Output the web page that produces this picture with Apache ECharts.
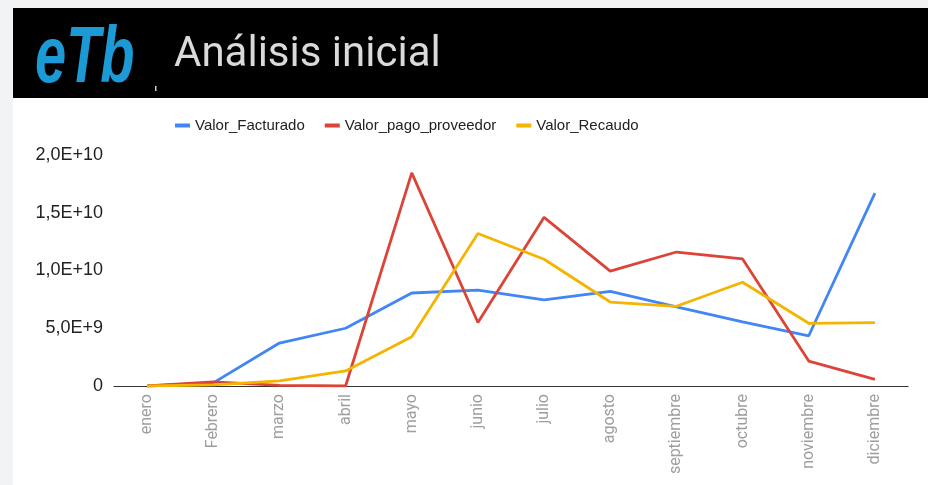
<!DOCTYPE html>
<html>
<head>
<meta charset="utf-8">
<script src="https://cdn.jsdelivr.net/npm/echarts@6/dist/echarts.min.js"></script>
<style>
  html, body { margin: 0; padding: 0; background: #f1f3f4; }
  #chart { width: 928px; height: 485px; }
</style>
</head>
<body>
<div id="chart"></div>
<script>
// monthly values
const meses = ['enero', 'Febrero', 'marzo', 'abril', 'mayo', 'junio', 'julio',
  'agosto', 'septiembre', 'octubre', 'noviembre', 'diciembre'];
const valorFacturado = [0, 0.27e9, 3.72e9, 5.0e9, 8.05e9, 8.3e9, 7.45e9, 8.2e9, 6.85e9, 5.55e9, 4.35e9, 16.7e9];
const valorPagoProveedor = [0, 0.35e9, 0.05e9, 0, 18.45e9, 5.5e9, 14.6e9, 9.95e9, 11.6e9, 11.0e9, 2.16e9, 0.58e9];
const valorRecaudo = [0, 0.1e9, 0.45e9, 1.3e9, 4.27e9, 13.2e9, 10.97e9, 7.27e9, 6.9e9, 8.98e9, 5.43e9, 5.48e9];
const seriesNames = ['Valor_Facturado', 'Valor_pago_proveedor', 'Valor_Recaudo'];
const colors = ['#4285f4', '#db4437', '#f4b400'];

const chart = echarts.init(document.getElementById('chart'));

// 2.0e+10 -> 2,0E+10
const fmtY = (v) => {
  if (v === 0) return '0';
  return v.toExponential(1).replace('.', ',').replace('e', 'E');
};

const mkLine = (name, data, color) => ({
  name: name,
  type: 'line',
  data: data,
  showSymbol: false,
  symbol: 'none',
  lineStyle: { width: 2.8, color: color },
  itemStyle: { color: color },
  z: 3
});

const option = {
  backgroundColor: '#f1f3f4',
  animation: false,
  textStyle: { fontFamily: 'Liberation Sans, Arial, sans-serif' },
  graphic: [
    // white panel
    { type: 'rect', left: 13, top: 98, shape: { width: 915, height: 387 }, style: { fill: '#ffffff' }, z: -10 },
    // black header
    { type: 'rect', left: 13, top: 8, shape: { width: 915, height: 90 }, style: { fill: '#000000' }, z: -9 },
    {
      type: 'text', x: 35, y: 20, scaleX: 0.7, z: 10,
      style: {
        text: 'eTb', fill: '#1b9ad6',
        font: 'italic bold 80px "Liberation Sans", Arial, sans-serif'
      }
    },
    { type: 'rect', shape: { x: 155, y: 86, width: 1.5, height: 5 }, style: { fill: '#cfcfcf' }, z: 10 },
    {
      type: 'text', x: 174, y: 34, z: 10,
      style: {
        text: 'Análisis inicial', fill: '#dadada',
        font: '42px Roboto, "Noto Sans", sans-serif'
      }
    }
  ],
  legend: {
    top: 113,
    left: 170,
    itemWidth: 15,
    itemHeight: 4,
    itemGap: 20,
    icon: 'rect',
    textStyle: { fontSize: 15, color: '#222222' },
    data: seriesNames
  },
  grid: { left: 114, right: 20, top: 155, bottom: 99 },
  xAxis: {
    type: 'category',
    data: meses,
    boundaryGap: true,
    axisLine: { lineStyle: { color: '#333333', width: 1.2 } },
    axisTick: { show: false },
    axisLabel: {
      rotate: 90,
      margin: 8,
      fontSize: 16,
      fontFamily: 'Roboto, sans-serif',
      color: '#9e9e9e',
      interval: 0
    }
  },
  yAxis: {
    type: 'value',
    min: 0,
    max: 2e10,
    interval: 5e9,
    axisLine: { show: false },
    axisTick: { show: false },
    splitLine: { show: false },
    axisLabel: {
      formatter: fmtY,
      fontSize: 18,
      color: '#222222',
      margin: 11
    }
  },
  series: [
    mkLine(seriesNames[0], valorFacturado, colors[0]),
    mkLine(seriesNames[1], valorPagoProveedor, colors[1]),
    mkLine(seriesNames[2], valorRecaudo, colors[2])
  ]
};

chart.setOption(option);
</script>
</body>
</html>
